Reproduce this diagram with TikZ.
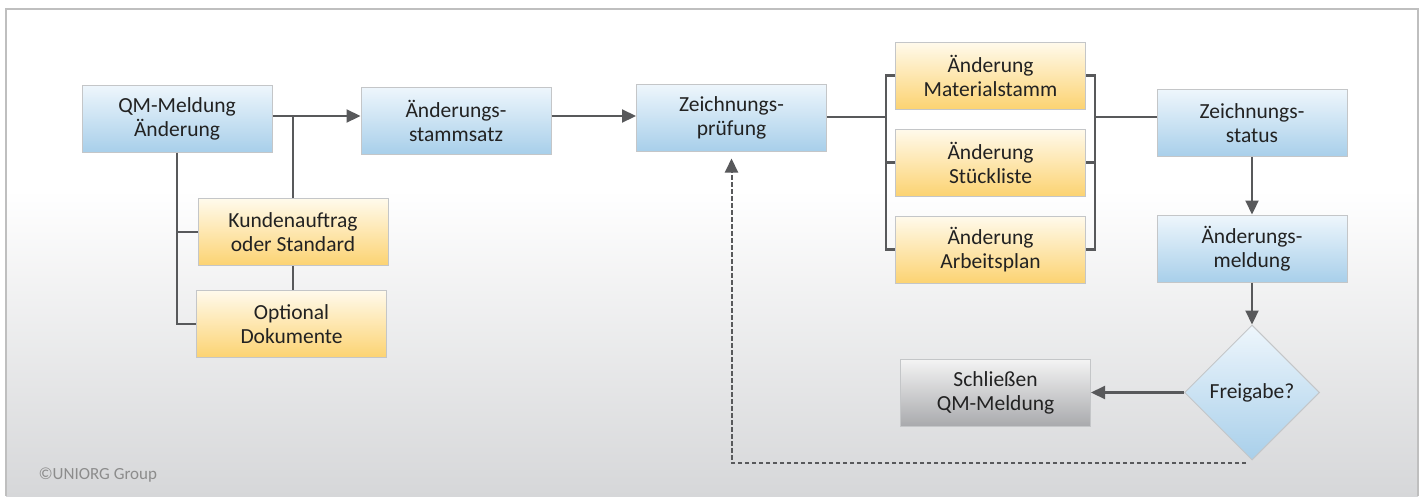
\documentclass[tikz,border=0pt]{standalone}
\usepackage{fontspec}
\setmainfont{Carlito}
\usetikzlibrary{shapes.geometric,arrows.meta}
\definecolor{blueTop}{HTML}{EEF6FC}
\definecolor{blueBot}{HTML}{A8CFEA}
\definecolor{yelTop}{HTML}{FFFAEC}
\definecolor{yelBot}{HTML}{FCD372}
\definecolor{grayTop}{HTML}{F4F4F4}
\definecolor{grayBot}{HTML}{A9AAAD}
\definecolor{boxLine}{HTML}{C4C6C8}
\definecolor{connLine}{HTML}{58595B}
\definecolor{txt}{HTML}{222222}
\definecolor{bgBot}{HTML}{D6D7D9}
\tikzset{
  box/.style={draw=boxLine, line width=1pt, minimum width=190pt, minimum height=67pt,
    align=center, text=txt, font=\fontsize{21.5}{24}\selectfont},
  bluebox/.style={box, top color=blueTop, bottom color=blueBot},
  yelbox/.style={box, top color=yelTop, bottom color=yelBot},
  graybox/.style={box, top color=grayTop, bottom color=grayBot},
  conn/.style={draw=connLine, line width=2.2pt},
  arr/.style={conn, -{Triangle[length=14pt,width=13pt]}},
  dasharr/.style={draw=connLine, line width=2pt, dash pattern=on 4.5pt off 2.5pt,
    -{Triangle[length=14pt,width=13pt]}, shorten >=7pt}
}
\begin{document}
\begin{tikzpicture}[x=1pt,y=-1pt]
\useasboundingbox (0,0) rectangle (1425,496);
\fill[white] (0,0) rectangle (1425,496);
\shade[top color=white, bottom color=bgBot] (6,190) rectangle (1418,496);
\draw[black!25!white, line width=2pt] (6,496) -- (6,9) -- (1418,9) -- (1418,496);

\node[bluebox] (qm) at (177,118.5) {QM-Meldung\\Änderung};
\node[bluebox] (stamm) at (456,120.5) {Änderungs-\\stammsatz};
\node[bluebox] (pruef) at (731.5,117.5) {Zeichnungs-\\prüfung};
\node[yelbox] (kunde) at (293,232) {Kundenauftrag\\oder Standard};
\node[yelbox] (opt) at (291.5,324) {Optional\\Dokumente};
\node[yelbox] (mat) at (990.5,75.5) {Änderung\\Materialstamm};
\node[yelbox] (stk) at (990.5,162.5) {Änderung\\Stückliste};
\node[yelbox] (arb) at (990.5,249.5) {Änderung\\Arbeitsplan};
\node[bluebox] (zstat) at (1252,123) {Zeichnungs-\\status};
\node[bluebox] (meld) at (1252,248.5) {Änderungs-\\meldung};
\node[draw=boxLine, line width=1pt, diamond, minimum width=135pt, minimum height=135pt,
  top color=blueTop, bottom color=blueBot, text=txt, font=\fontsize{21.5}{24}\selectfont]
  (frei) at (1252,392.5) {Freigabe?};
\node[graybox] (schl) at (995.5,392.5) {Schließen\\QM-Meldung};
\node[anchor=west, text=black!45!white, font=\fontsize{17}{19}\selectfont] (copy) at (35,475) {©UNIORG Group};

\coordinate (lbr) at (886,117);
\coordinate (rbr) at (1095,117);
\coordinate (dstart) at (1246,463);

\draw[arr] (qm.east |- 0,116) -- (stamm.west |- 0,116);
\draw[conn] (kunde.north) -- (kunde.north |- 0,116);
\draw[conn] (kunde.south) -- (opt.north -| kunde.south);
\draw[conn] (qm.south) |- (opt.west);
\draw[conn] (qm.south |- kunde.west) -- (kunde.west);
\draw[arr] (stamm.east |- 0,116) -- (pruef.west |- 0,116);
\draw[conn] (pruef.east |- lbr) -- (lbr);
\draw[conn] (mat.west) -| (lbr) |- (arb.west);
\draw[conn] (stk.west) -- (stk.west -| lbr);
\draw[conn] (mat.east) -| (rbr) |- (arb.east);
\draw[conn] (stk.east) -- (stk.east -| rbr);
\draw[conn] (rbr) -- (zstat.west |- rbr);
\draw[arr] (zstat.south) -- (meld.north);
\draw[arr] (meld.south) -- (frei.north);
\draw[arr] (frei.west) -- (schl.east);
\draw[dasharr] (dstart) -| (pruef.south);
\end{tikzpicture}
\end{document}
